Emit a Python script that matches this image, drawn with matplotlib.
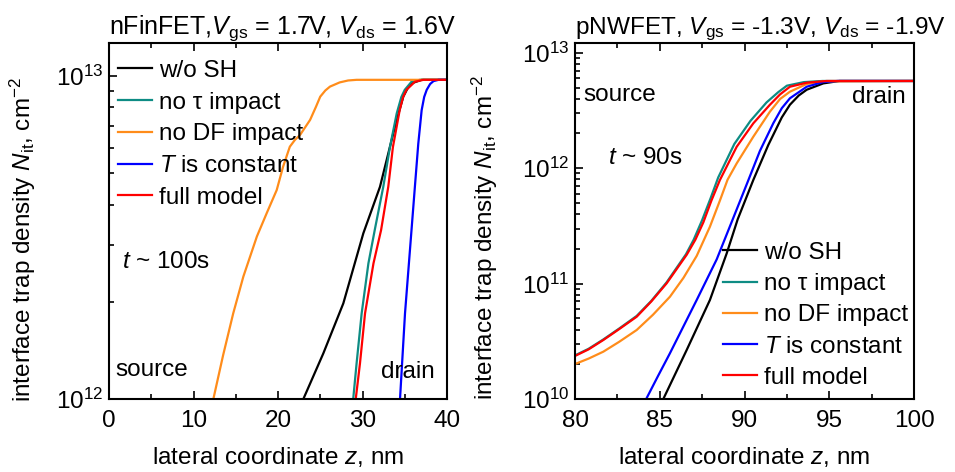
import matplotlib
matplotlib.use("Agg")
import matplotlib.pyplot as plt
import numpy as np
from matplotlib.ticker import MultipleLocator, LogLocator, NullFormatter

plt.rcParams["font.family"] = ["Liberation Sans", "DejaVu Sans"]
plt.rcParams["mathtext.fontset"] = "custom"
plt.rcParams["mathtext.rm"] = "Liberation Sans"
plt.rcParams["mathtext.it"] = "Liberation Sans:italic"
FS = 17.5

LABELS = ["w/o SH", "no τ impact", "no DF impact", "$T$ is constant", "full model"]
COLORS = ["#000000", "#0e8c84", "#ff8c1a", "#0000ff", "#ff0000"]

# ---- nFinFET (left): z in nm, log10(Nit)
nfin_black_z = [23.0, 25.36, 27.73, 30.1, 32.07, 33.25, 34.05, 34.83, 35.4, 36.0, 37.0, 40.0]
nfin_black_log = [12.0, 12.141, 12.296, 12.513, 12.657, 12.781, 12.864, 12.936, 12.965, 12.979, 12.988, 12.988]
nfin_teal_z = [28.9, 29.3, 29.9, 30.7, 31.5, 32.46, 33.25, 34.05, 34.6, 35.0, 35.8, 36.8, 40.0]
nfin_teal_log = [12.0, 12.11, 12.265, 12.42, 12.53, 12.657, 12.78, 12.884, 12.935, 12.957, 12.982, 12.988, 12.988]
nfin_orange_z = [12.35, 13.5, 14.7, 15.9, 17.5, 18.66, 19.85, 20.6, 21.4, 22.0, 22.6, 23.8, 24.5, 25.0,
                 25.6, 26.15, 27.3, 28.3, 29.3, 40.0]
nfin_orange_log = [12.0, 12.135, 12.265, 12.379, 12.503, 12.575, 12.647, 12.719, 12.781, 12.802, 12.817,
                   12.864, 12.905, 12.936, 12.955, 12.967, 12.98, 12.986, 12.988, 12.988]
nfin_blue_z = [34.44, 35.03, 35.8, 36.2, 36.6, 37.0, 37.3, 37.6, 38.0, 38.4, 39.0, 40.0]
nfin_blue_log = [12.0, 12.265, 12.523, 12.657, 12.79, 12.894, 12.935, 12.957, 12.975, 12.984, 12.988, 12.988]
nfin_red_z = [29.2, 29.7, 30.3, 31.3, 32.2, 33.05, 33.6, 34.4, 34.8, 35.2, 36.2, 37.2, 40.0]
nfin_red_log = [12.0, 12.11, 12.265, 12.42, 12.523, 12.657, 12.78, 12.894, 12.935, 12.957, 12.982, 12.988, 12.988]

# ---- pNWFET (right)
pnw_black_z = [85.21, 86.59, 87.96, 88.95, 89.6, 90.52, 91.4, 92.2, 92.68, 93.2, 93.67, 94.65, 95.6, 100.0]
pnw_black_log = [10.0, 10.425, 10.858, 11.262, 11.558, 11.898, 12.2, 12.44, 12.55, 12.63, 12.68, 12.735,
                 12.756, 12.756]
pnw_teal_z = [80.0, 80.8, 81.67, 82.6, 83.64, 84.5, 85.4, 86.55, 87.0, 87.5, 88.0, 88.45, 89.4, 90.35, 91.3,
              92.0, 92.5, 93.5, 94.6, 100.0]
pnw_teal_log = [10.378, 10.435, 10.516, 10.61, 10.72, 10.85, 11.01, 11.255, 11.38, 11.55, 11.74, 11.92,
                12.21, 12.41, 12.57, 12.66, 12.715, 12.746, 12.756, 12.756]
pnw_orange_z = [80.0, 80.8, 81.67, 82.6, 83.64, 84.6, 85.6, 86.4, 87.18, 87.96, 88.55, 89.0, 89.54, 90.52,
                91.5, 92.1, 92.68, 93.67, 94.65, 100.0]
pnw_orange_log = [10.303, 10.35, 10.41, 10.495, 10.598, 10.73, 10.886, 11.05, 11.24, 11.493, 11.72, 11.9,
                  12.042, 12.273, 12.49, 12.6, 12.663, 12.73, 12.752, 12.756]
pnw_blue_z = [84.2, 84.9, 85.6, 86.4, 87.18, 88.36, 89.15, 90.13, 90.91, 91.7, 92.2, 92.68, 93.67, 94.65,
              95.5, 100.0]
pnw_blue_log = [10.0, 10.2, 10.396, 10.63, 10.858, 11.21, 11.5, 11.86, 12.15, 12.39, 12.52, 12.606, 12.706,
                12.747, 12.756, 12.756]
pnw_red_z = [80.0, 80.8, 81.67, 82.6, 83.64, 84.5, 85.41, 86.59, 87.1, 87.57, 88.05, 88.55, 89.54, 90.52,
             91.5, 92.1, 92.68, 93.67, 94.85, 100.0]
pnw_red_log = [10.373, 10.43, 10.511, 10.605, 10.713, 10.845, 11.003, 11.25, 11.38, 11.53, 11.72, 11.898,
               12.186, 12.389, 12.55, 12.64, 12.706, 12.741, 12.756, 12.756]

nfin = [(nfin_black_z, nfin_black_log), (nfin_teal_z, nfin_teal_log), (nfin_orange_z, nfin_orange_log),
        (nfin_blue_z, nfin_blue_log), (nfin_red_z, nfin_red_log)]
pnw = [(pnw_black_z, pnw_black_log), (pnw_teal_z, pnw_teal_log), (pnw_orange_z, pnw_orange_log),
       (pnw_blue_z, pnw_blue_log), (pnw_red_z, pnw_red_log)]

W, H = 955, 472
fig = plt.figure(figsize=(W / 100, H / 100), dpi=100)


def px_axes(x0, x1, y0, y1):
    return fig.add_axes([x0 / W, 1 - y1 / H, (x1 - x0) / W, (y1 - y0) / H])


def style(ax, major, minor):
    ax.set_yscale("log")
    ax.xaxis.set_major_locator(MultipleLocator(major))
    ax.xaxis.set_minor_locator(MultipleLocator(minor))
    ax.yaxis.set_major_locator(LogLocator(base=10))
    ax.yaxis.set_minor_locator(LogLocator(base=10, subs=np.arange(2, 10)))
    ax.yaxis.set_minor_formatter(NullFormatter())
    ax.tick_params(which="both", direction="in", top=True, right=False, width=1.2, labelsize=FS)
    ax.tick_params(which="major", length=6)
    ax.tick_params(axis="x", which="major", pad=8)
    ax.tick_params(axis="y", which="major", pad=4)
    ax.tick_params(which="minor", length=3.5)
    for s in ax.spines.values():
        s.set_linewidth(1.5)


def curves(ax, data):
    for (z, lg), c, lab in zip(data, COLORS, LABELS):
        ax.plot(z, 10 ** np.array(lg), color=c, lw=1.6, label=lab)


ylab = "interface trap density $N_{\\mathrm{it}}$, cm$^{-2}$"
xlab = "lateral coordinate $z$, nm"
leg_kw = dict(loc="upper left", frameon=False, fontsize=FS, handlelength=1.4, handletextpad=0.3,
              borderaxespad=0.0, borderpad=0.2)

# left panel
ax1 = px_axes(109, 447, 43, 399)
curves(ax1, nfin)
style(ax1, 10, 5)
ax1.set_xlim(0, 40)
ax1.set_ylim(1e12, 10 ** 13.102)
ax1.set_title("nFinFET,$V_{\\mathrm{gs}}$ = 1.7V, $V_{\\mathrm{ds}}$ = 1.6V", loc="left", fontsize=18, pad=5)
ax1.set_ylabel(ylab, fontsize=FS)
ax1.yaxis.set_label_coords(-0.21, 0.447)
ax1.set_xlabel(xlab, fontsize=FS)
ax1.xaxis.set_label_coords(0.5, -0.13)
ax1.legend(bbox_to_anchor=(0.012, 0.966), labelspacing=0.4, **leg_kw)
ax1.text(0.038, 0.385, "$t$ ~ 100s", transform=ax1.transAxes, ha="left", va="center", fontsize=FS)
ax1.text(0.018, 0.081, "source", transform=ax1.transAxes, ha="left", va="center", fontsize=FS)
ax1.text(0.964, 0.076, "drain", transform=ax1.transAxes, ha="right", va="center", fontsize=FS)

# right panel
ax2 = px_axes(575, 914, 43, 399)
curves(ax2, pnw)
style(ax2, 5, 2.5)
ax2.set_xlim(80, 100)
ax2.set_ylim(1e10, 10 ** 13.085)
ax2.set_title("pNWFET, $V_{\\mathrm{gs}}$ = -1.3V, $V_{\\mathrm{ds}}$ = -1.9V", loc="left", fontsize=17.6, pad=5)
ax2.set_ylabel(ylab, fontsize=FS)
ax2.yaxis.set_label_coords(-0.222, 0.455)
ax2.set_xlabel(xlab, fontsize=FS)
ax2.xaxis.set_label_coords(0.5, -0.13)
ax2.legend(bbox_to_anchor=(0.422, 0.455), labelspacing=0.38, **leg_kw)
ax2.text(0.024, 0.854, "source", transform=ax2.transAxes, ha="left", va="center", fontsize=FS)
ax2.text(0.976, 0.848, "drain", transform=ax2.transAxes, ha="right", va="center", fontsize=FS)
ax2.text(0.097, 0.677, "$t$ ~ 90s", transform=ax2.transAxes, ha="left", va="center", fontsize=FS)

fig.savefig("out.png", dpi=100)
